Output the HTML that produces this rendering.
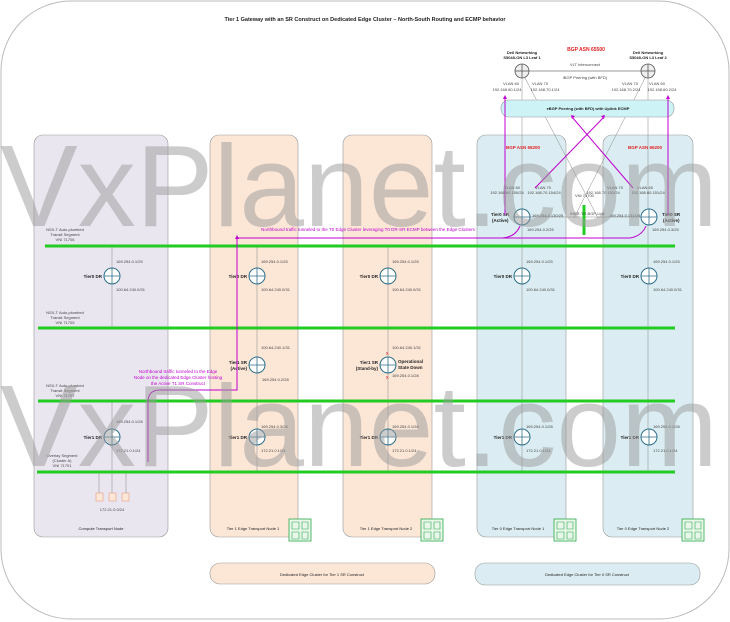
<!DOCTYPE html>
<html><head><meta charset="utf-8"><style>
html,body{margin:0;padding:0;background:#fff}
svg{display:block}
text{font-family:"Liberation Sans",sans-serif}
.s{font-size:4px;fill:#444}
.b{font-size:4.5px;fill:#222;font-weight:bold}
.r{font-size:5px;fill:#e02020;font-weight:bold}
.m{font-size:4.5px;fill:#c000d0}
</style></head><body>
<svg width="730" height="622" viewBox="0 0 730 622" xmlns="http://www.w3.org/2000/svg">
<rect x="1" y="1" width="728" height="618" rx="70" fill="#fff" stroke="#bbb" stroke-width="1"/>
<text x="365" y="21" text-anchor="middle" style="font-size:5.5px;font-weight:bold;fill:#222">Tier 1 Gateway with an SR Construct on Dedicated Edge Cluster – North-South Routing and ECMP behavior</text>

<!-- columns -->
<rect x="34" y="135" width="134" height="402" rx="9" fill="#eae6f0" stroke="#999" stroke-width="0.6"/>
<rect x="210" y="135" width="88" height="402" rx="9" fill="#fce6d6" stroke="#999" stroke-width="0.6"/>
<rect x="343" y="135" width="89" height="402" rx="9" fill="#fce6d6" stroke="#999" stroke-width="0.6"/>
<rect x="477" y="135" width="89" height="402" rx="9" fill="#dbedf2" stroke="#999" stroke-width="0.6"/>
<rect x="603" y="135" width="90" height="402" rx="9" fill="#dbedf2" stroke="#999" stroke-width="0.6"/>
<text x="101" y="530" text-anchor="middle" class="s" style="fill:#222">Compute Transport Node</text>
<text x="253" y="530" text-anchor="middle" class="s" style="fill:#222">Tier 1 Edge Transport Node 1</text>
<text x="386" y="530" text-anchor="middle" class="s" style="fill:#222">Tier 1 Edge Transport Node 2</text>
<text x="518" y="530" text-anchor="middle" class="s" style="fill:#222">Tier 0 Edge Transport Node 1</text>
<text x="643" y="530" text-anchor="middle" class="s" style="fill:#222">Tier 0 Edge Transport Node 2</text>
<g fill="#e9f7ea" stroke="#2aa84a" stroke-width="0.8">
<rect x="289" y="519" width="22" height="22"/><rect x="421" y="519" width="22" height="22"/>
<rect x="554" y="519" width="22" height="22"/><rect x="682" y="519" width="22" height="22"/>
</g>
<g stroke="#2aa84a" stroke-width="0.6" fill="none">
<path d="M292 522h7v7h-7zM302 522h6v7h-6zM292 532h7v7h-7zM302 532h6v7h-6z"/>
<path d="M424 522h7v7h-7zM434 522h6v7h-6zM424 532h7v7h-7zM434 532h6v7h-6z"/>
<path d="M557 522h7v7h-7zM567 522h6v7h-6zM557 532h7v7h-7zM567 532h6v7h-6z"/>
<path d="M685 522h7v7h-7zM695 522h6v7h-6zM685 532h7v7h-7zM695 532h6v7h-6z"/>
</g>

<!-- bottom cluster labels -->
<rect x="210" y="563" width="225" height="21" rx="10" fill="#fce6d6" stroke="#999" stroke-width="0.6"/>
<rect x="475" y="563" width="225" height="22" rx="10" fill="#dbedf2" stroke="#999" stroke-width="0.6"/>
<text x="322" y="576" text-anchor="middle" class="s" style="fill:#222">Dedicated Edge Cluster for Tier 1 SR Construct</text>
<text x="587" y="576" text-anchor="middle" class="s" style="fill:#222">Dedicated Edge Cluster for Tier 0 SR Construct</text>

<!-- vertical stems -->
<g stroke="#888" stroke-width="0.5">
<line x1="112" y1="246" x2="112" y2="328"/><line x1="112" y1="401" x2="112" y2="493"/>
<line x1="257" y1="246" x2="257" y2="472"/><line x1="388" y1="246" x2="388" y2="472"/>
<line x1="522" y1="71" x2="522" y2="472"/><line x1="648" y1="71" x2="648" y2="472"/>
<line x1="99" y1="472" x2="99" y2="493"/><line x1="126" y1="472" x2="126" y2="493"/>
<line x1="524" y1="76" x2="598" y2="218"/><line x1="646" y1="76" x2="574" y2="218"/>
<line x1="530" y1="217" x2="641" y2="217"/>
</g>
<line x1="522" y1="71" x2="648" y2="71" stroke="#bbb" stroke-width="1.5"/>

<!-- green segments -->
<g stroke="#22cc22" stroke-width="3">
<line x1="45" y1="246" x2="675" y2="246"/>
<line x1="38" y1="328" x2="675" y2="328"/>
<line x1="38" y1="401" x2="675" y2="401"/>
<line x1="37" y1="472" x2="675" y2="472"/>
<line x1="584" y1="205" x2="584" y2="235"/>
</g>

<!-- top Dell -->
<rect x="501" y="100" width="173" height="17" rx="8" fill="#cdf3f7" stroke="#999" stroke-width="0.6"/>
<text x="588" y="110" text-anchor="middle" class="s" style="fill:#222;font-weight:bold">eBGP Peering (with BFD) with Uplink ECMP</text>
<text x="586" y="51" text-anchor="middle" class="r">BGP ASN 65500</text>
<text x="522" y="54" text-anchor="middle" class="s" style="fill:#222;font-weight:bold">Dell Networking</text>
<text x="522" y="59" text-anchor="middle" class="s" style="fill:#222;font-weight:bold">S5048-ON L3 Leaf 1</text>
<text x="648" y="54" text-anchor="middle" class="s" style="fill:#222;font-weight:bold">Dell Networking</text>
<text x="648" y="59" text-anchor="middle" class="s" style="fill:#222;font-weight:bold">S5048-ON L3 Leaf 2</text>
<text x="585" y="66" text-anchor="middle" class="s">VLT Interconnect</text>
<text x="585" y="79" text-anchor="middle" class="s">iBGP Peering (with BFD)</text>
<text x="511" y="85" text-anchor="middle" class="s">VLAN 60</text><text x="507" y="91" text-anchor="middle" class="s">192.168.60.1/24</text>
<text x="540" y="85" text-anchor="middle" class="s">VLAN 70</text><text x="545" y="91" text-anchor="middle" class="s">192.168.70.1/24</text>
<text x="630" y="85" text-anchor="middle" class="s">VLAN 70</text><text x="626" y="91" text-anchor="middle" class="s">192.168.70.2/24</text>
<text x="657" y="85" text-anchor="middle" class="s">VLAN 60</text><text x="662" y="91" text-anchor="middle" class="s">192.168.60.2/24</text>
<g fill="#eee" stroke="#555" stroke-width="0.8">
<circle cx="522" cy="71" r="7"/><circle cx="648" cy="71" r="7"/></g>
<g stroke="#555" stroke-width="0.8"><line x1="515" y1="71" x2="529" y2="71"/><line x1="522" y1="64" x2="522" y2="78"/>
<line x1="641" y1="71" x2="655" y2="71"/><line x1="648" y1="64" x2="648" y2="78"/></g>

<!-- T0 SR labels -->
<text x="523" y="149" class="r" text-anchor="middle" style="font-size:4.5px">BGP ASN 65200</text>
<text x="645" y="149" class="r" text-anchor="middle" style="font-size:4.5px">BGP ASN 65200</text>
<text x="512" y="189" class="s" text-anchor="middle">VLAN 60</text><text x="507" y="194" class="s" text-anchor="middle">192.168.60.150/24</text>
<text x="543" y="189" class="s" text-anchor="middle">VLAN 70</text><text x="544" y="194" class="s" text-anchor="middle">192.168.70.154/24</text>
<text x="615" y="189" class="s" text-anchor="middle">VLAN 70</text><text x="603" y="194" class="s" text-anchor="middle">192.168.70.152/24</text>
<text x="645" y="189" class="s" text-anchor="middle">VLAN 60</text><text x="648" y="194" class="s" text-anchor="middle">192.168.60.151/24</text>
<text x="575" y="197" class="s">VNI 71700</text>
<text x="570" y="215" class="s">INBR-TR-BGP-Link</text>
<text x="491" y="216" class="b">Tier0 SR</text><text x="492" y="222" class="b">(Active)</text>
<text x="662" y="216" class="b">Tier0 SR</text><text x="663" y="222" class="b">(Active)</text>
<text x="532" y="217" class="s">169.254.0.130/25</text><text x="527" y="231" class="s">169.254.0.2/25</text>
<text x="609" y="217" class="s">169.254.0.131/25</text><text x="652" y="231" class="s">169.254.0.3/25</text>

<!-- transit segment labels -->
<text x="65" y="231" class="s" text-anchor="middle">NSX-T Auto-plumbed</text><text x="65" y="236" class="s" text-anchor="middle">Transit Segment</text><text x="65" y="241" class="s" text-anchor="middle">VNI 71706</text>
<text x="65" y="314" class="s" text-anchor="middle">NSX-T Auto-plumbed</text><text x="65" y="319" class="s" text-anchor="middle">Transit Segment</text><text x="65" y="324" class="s" text-anchor="middle">VNI 71705</text>
<text x="65" y="387" class="s" text-anchor="middle">NSX-T Auto-plumbed</text><text x="65" y="392" class="s" text-anchor="middle">Transit Segment</text><text x="65" y="397" class="s" text-anchor="middle">VNI 71707</text>
<text x="62" y="457" class="s" text-anchor="middle">Overlay Segment</text><text x="62" y="462" class="s" text-anchor="middle">(Cluster A)</text><text x="62" y="467" class="s" text-anchor="middle">VNI 71701</text>

<!-- Tier0 DR row -->
<text x="116" y="263" class="s">169.254.0.1/25</text><text x="116" y="291" class="s">100.64.240.0/31</text>
<text x="261" y="263" class="s">169.254.0.1/25</text><text x="261" y="291" class="s">100.64.240.0/31</text>
<text x="392" y="263" class="s">169.254.0.1/25</text><text x="392" y="291" class="s">100.64.240.0/31</text>
<text x="526" y="263" class="s">169.254.0.1/25</text><text x="526" y="291" class="s">100.64.240.0/31</text>
<text x="653" y="263" class="s">169.254.0.1/25</text><text x="653" y="291" class="s">100.64.240.0/31</text>
<text x="102" y="278" class="b" text-anchor="end">Tier0 DR</text>
<text x="247" y="278" class="b" text-anchor="end">Tier0 DR</text>
<text x="378" y="278" class="b" text-anchor="end">Tier0 DR</text>
<text x="512" y="278" class="b" text-anchor="end">Tier0 DR</text>
<text x="639" y="278" class="b" text-anchor="end">Tier0 DR</text>

<!-- Tier1 SR -->
<text x="261" y="349" class="s">100.64.240.1/31</text><text x="262" y="381" class="s">169.254.0.2/28</text>
<text x="247" y="364" class="b" text-anchor="end">Tier1 SR</text><text x="247" y="370" class="b" text-anchor="end">(Active)</text>
<text x="392" y="349" class="s">100.64.240.1/31</text><text x="392" y="377" class="s">169.254.0.1/28</text>
<text x="378" y="364" class="b" text-anchor="end">Tier1 SR</text><text x="378" y="370" class="b" text-anchor="end">(Stand-by)</text>
<text x="398" y="363" class="b">Operational</text><text x="398" y="369" class="b">State Down</text>
<text x="386" y="355" style="font-size:5px;fill:#e02020">x</text><text x="386" y="379" style="font-size:5px;fill:#e02020">x</text>

<!-- Tier1 DR -->
<text x="116" y="423" class="s">169.254.0.1/28</text><text x="116" y="452" class="s">172.21.0.1/24</text>
<text x="261" y="428" class="s">169.254.0.3/28</text><text x="261" y="452" class="s">172.21.0.1/24</text>
<text x="392" y="428" class="s">169.254.0.1/28</text><text x="392" y="452" class="s">172.21.0.1/24</text>
<text x="526" y="428" class="s">169.254.0.1/28</text><text x="526" y="452" class="s">172.21.0.1/24</text>
<text x="653" y="428" class="s">169.254.0.1/28</text><text x="653" y="452" class="s">172.21.0.1/24</text>
<text x="102" y="439" class="b" text-anchor="end">Tier1 DR</text>
<text x="247" y="439" class="b" text-anchor="end">Tier1 DR</text>
<text x="378" y="439" class="b" text-anchor="end">Tier1 DR</text>
<text x="512" y="439" class="b" text-anchor="end">Tier1 DR</text>
<text x="639" y="439" class="b" text-anchor="end">Tier1 DR</text>

<!-- VMs -->
<g fill="#fce6d6" stroke="#e09070" stroke-width="0.5">
<rect x="96" y="493" width="7" height="8"/><rect x="109" y="493" width="7" height="8"/><rect x="122" y="493" width="7" height="8"/></g>
<text x="112" y="511" class="s" text-anchor="middle">172.21.0.0/24</text>

<!-- routers -->
<g fill="#fff" stroke="#2d6f8a" stroke-width="1">
<circle cx="522" cy="217" r="8"/><circle cx="649" cy="217" r="8"/>
<circle cx="112" cy="276" r="8"/><circle cx="257" cy="276" r="8"/><circle cx="388" cy="276" r="8"/><circle cx="522" cy="276" r="8"/><circle cx="649" cy="276" r="8"/>
<circle cx="257" cy="365" r="8"/><circle cx="388" cy="365" r="8"/>
<circle cx="112" cy="437" r="8"/><circle cx="257" cy="437" r="8"/><circle cx="388" cy="437" r="8"/><circle cx="522" cy="437" r="8"/><circle cx="649" cy="437" r="8"/>
</g>
<g stroke="#2d6f8a" stroke-width="0.8">
<path d="M514 217h16M522 209v16M641 217h16M649 209v16M104 276h16M112 268v16M249 276h16M257 268v16M380 276h16M388 268v16M514 276h16M522 268v16M641 276h16M649 268v16M249 365h16M257 357v16M380 365h16M388 357v16M104 437h16M112 429v16M249 437h16M257 429v16M380 437h16M388 429v16M514 437h16M522 429v16M641 437h16M649 429v16"/>
</g>

<!-- magenta paths -->
<g fill="none" stroke="#c000d0" stroke-width="1">
<path d="M148 462 V402 Q148 390 160 390 H237 V238 H630"/>
<path d="M500 238 Q515 238 520 226"/>
<path d="M630 238 Q642 236 646 226"/>
<path d="M505 215 V98"/><path d="M668 215 V98"/>
<path d="M535 188 L604 117"/><path d="M633 188 L572 117"/>
</g>
<g fill="#c000d0">
<path d="M505 95 l-2 4 h4z"/><path d="M668 95 l-2 4 h4z"/><path d="M237 235 l-2 4 h4z"/>
<path d="M605 115 l-4 1 l3 3z"/><path d="M571 115 l4 1 l-3 3z"/>
</g>
<text x="368" y="231" class="m" text-anchor="middle">Northbound traffic tunneled to the T0 Edge Cluster leveraging T0 DR-SR ECMP between the Edge Clusters</text>
<text x="178" y="373" class="m" text-anchor="middle">Northbound traffic tunneled to the Edge</text>
<text x="178" y="379" class="m" text-anchor="middle">Node on the dedicated Edge Cluster hosting</text>
<text x="178" y="385" class="m" text-anchor="middle">the  Active T1 SR Construct</text>

<!-- watermark -->
<g fill="#999" fill-opacity="0.5">
<text x="0" y="226" textLength="718" lengthAdjust="spacingAndGlyphs" style="font-size:116px">VxPlanet.com</text>
<text x="0" y="466" textLength="718" lengthAdjust="spacingAndGlyphs" style="font-size:116px">VxPlanet.com</text>
</g>
</svg>
</body></html>
